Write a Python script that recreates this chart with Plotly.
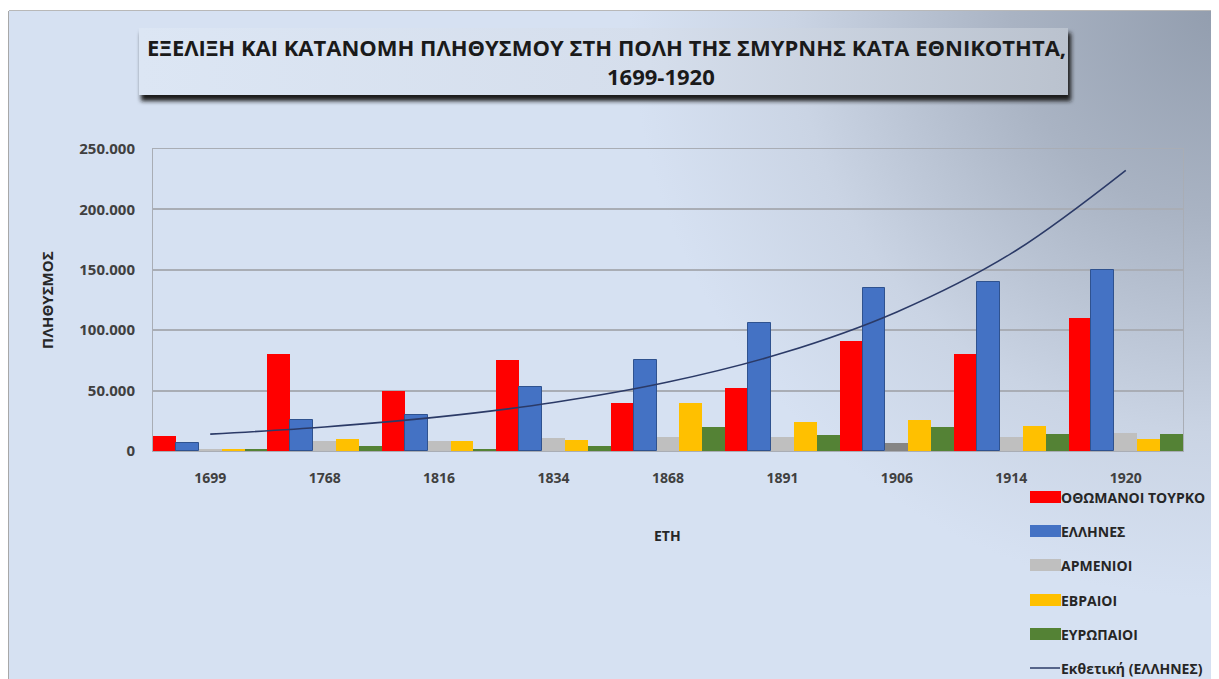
import base64
import numpy as np
import plotly.graph_objects as go

W, H = 1219, 679
OFF = 8  # the page body margin shifts the figure by 8px

# ---------------- data ----------------
years = ["1699", "1768", "1816", "1834", "1868", "1891", "1906", "1914", "1920"]
series_names = ["ΟΘΩΜΑΝΟΙ ΤΟΥΡΚΟ", "ΕΛΛΗΝΕΣ", "ΑΡΜΕΝΙΟΙ", "ΕΒΡΑΙΟΙ", "ΕΥΡΩΠΑΙΟΙ"]
turks = [12500, 80000, 50000, 75000, 40000, 52000, 91000, 80000, 110000]
greeks = [7000, 25500, 30000, 53000, 75000, 106000, 135000, 140000, 150000]
armenians = [1500, 8000, 8000, 11000, 12000, 12000, 7000, 12000, 14500]
jews = [2000, 10000, 8000, 9000, 40000, 24000, 26000, 20500, 10000]
europeans = [1500, 4000, 2000, 4500, 19500, 13000, 19500, 14000, 14000]
trend_name = "Εκθετική (ΕΛΛΗΝΕΣ)"
y_tickvals = [0, 50000, 100000, 150000, 200000, 250000]
y_ticktext = ["0", "50.000", "100.000", "150.000", "200.000", "250.000"]

colors = ["#FF0000", "#4472C4", "#BFBFBF", "#FFC000", "#548235"]
armenian_colors = ["#BFBFBF"] * 6 + ["#858585"] + ["#BFBFBF"] * 2
trend_color = "#2B3A67"

# exponential trendline (least squares on ln y, as Excel does)
idx = np.arange(1, len(years) + 1)
b, ln_a = np.polyfit(idx, np.log(np.array(greeks, dtype=float)), 1)
trend = np.exp(ln_a + b * idx)

# ---------------- background (decorative) ----------------
bx0, by0 = 139 - OFF, 28 - OFF
svg = f"""<svg xmlns='http://www.w3.org/2000/svg' width='{W}' height='{H}' viewBox='0 0 {W} {H}' preserveAspectRatio='none'>
<defs>
<radialGradient id='g' cx='{W - OFF}' cy='0' r='590' gradientUnits='userSpaceOnUse'>
<stop offset='0' stop-color='#929DAE'/>
<stop offset='0.35' stop-color='#A9B3C3'/>
<stop offset='0.72' stop-color='#CAD4E4'/>
<stop offset='1' stop-color='#D6E1F2'/>
</radialGradient>
<linearGradient id='t' x1='0' x2='1' y1='0' y2='0'>
<stop offset='0' stop-color='#DCE6F4'/>
<stop offset='0.55' stop-color='#D5DEEC'/>
<stop offset='1' stop-color='#BAC2CE'/>
</linearGradient>
<filter id='s' x='-5%' y='-50%' width='110%' height='200%'><feGaussianBlur stdDeviation='2'/></filter>
</defs>
<rect x='0' y='0' width='{W}' height='{H}' fill='#FFFFFF'/>
<rect x='1' y='3' width='{W - 1}' height='{H - 3}' fill='url(#g)'/>
<line x1='0.5' y1='3' x2='0.5' y2='{H}' stroke='#A8A8A8' stroke-width='1'/>
<line x1='1' y1='2.5' x2='{W}' y2='2.5' stroke='#B8B8B8' stroke-width='1'/>
<rect x='{bx0 + 2}' y='{by0 + 5}' width='930' height='68' fill='#1C1C1C' filter='url(#s)'/>
<rect x='{bx0}' y='{by0}' width='929' height='67' fill='url(#t)'/>
</svg>"""
bg_uri = "data:image/svg+xml;base64," + base64.b64encode(svg.encode("utf-8")).decode("ascii")

# ---------------- figure ----------------
fig = go.Figure()
values = [turks, greeks, armenians, jews, europeans]
for i, (name, vals) in enumerate(zip(series_names, values)):
    mc = armenian_colors if i == 2 else colors[i]
    line = dict(color="#2F528F", width=1) if i == 1 else dict(width=0)
    fig.add_trace(go.Bar(x=years, y=vals, name=name,
                         marker=dict(color=mc, line=line), showlegend=False))

fig.add_trace(go.Scatter(x=years, y=trend, name=trend_name, mode="lines",
                         line=dict(color=trend_color, width=1.6, shape="spline"),
                         showlegend=False))

# reference page pixel -> paper coordinate
px = lambda v: (v - OFF) / W
py = lambda v: 1 - (v - OFF) / H

grid_c = "#A9ADB5"
font_main = "Open Sans"

fig.update_layout(
    width=W, height=H,
    margin=dict(l=0, r=0, t=0, b=0, pad=0),
    paper_bgcolor="rgba(0,0,0,0)",
    plot_bgcolor="rgba(0,0,0,0)",
    barmode="group", bargap=0, bargroupgap=0,
    font=dict(family=font_main, color="#404040"),
    xaxis=dict(domain=[px(153), px(1183)], type="category",
               showgrid=False, showline=True, mirror=True, linecolor=grid_c, linewidth=1,
               tickfont=dict(size=14, color="#404040", weight="bold"),
               ticks="", ticklabelstandoff=14, automargin=False),
    yaxis=dict(domain=[py(451), py(149)], range=[0, 250000],
               tickvals=y_tickvals, ticktext=y_ticktext,
               showgrid=True, gridcolor=grid_c, gridwidth=1.5,
               showline=True, mirror=True, linecolor=grid_c, linewidth=1,
               zeroline=False,
               tickfont=dict(size=15, color="#404040", weight="bold"),
               ticks="", ticklabelstandoff=14, automargin=False),
    images=[dict(source=bg_uri, xref="paper", yref="paper", x=0, y=1,
                 sizex=1, sizey=1, sizing="stretch", xanchor="left", yanchor="top",
                 layer="below")],
)

annotations = [
    dict(text="ΕΞΕΛΙΞΗ ΚΑΙ ΚΑΤΑΝΟΜΗ ΠΛΗΘΥΣΜΟΥ ΣΤΗ ΠΟΛΗ ΤΗΣ ΣΜΥΡΝΗΣ ΚΑΤΑ ΕΘΝΙΚΟΤΗΤΑ,",
         x=px(606), y=py(47), font=dict(size=22, color="#1A1A1A", weight="bold")),
    dict(text="1699-1920", x=px(661), y=py(76),
         font=dict(size=22, color="#1A1A1A", weight="bold")),
    dict(text="ΠΛΗΘΥΣΜΟΣ", x=px(47), y=py(300), textangle=-90,
         font=dict(size=15, color="#262626", weight="bold")),
    dict(text="ΕΤΗ", x=px(667), y=py(535),
         font=dict(size=14, color="#262626", weight="bold")),
]
for a in annotations:
    a.update(xref="paper", yref="paper", showarrow=False, xanchor="center", yanchor="middle")

# custom legend (wide swatches like the original)
shapes = []
rows = [497, 531, 565, 600, 634, 668]
for i, name in enumerate(series_names):
    yc = rows[i]
    shapes.append(dict(type="rect", xref="paper", yref="paper",
                       x0=px(1030), x1=px(1061), y0=py(yc + 6), y1=py(yc - 6),
                       fillcolor=colors[i], line=dict(width=0)))
    annotations.append(dict(text=name, xref="paper", yref="paper", x=px(1059), y=py(yc),
                            xanchor="left", yanchor="middle", showarrow=False,
                            font=dict(size=14, color="#262626", weight="bold")))
shapes.append(dict(type="line", xref="paper", yref="paper",
                   x0=px(1030), x1=px(1060), y0=py(rows[5]), y1=py(rows[5]),
                   line=dict(color=trend_color, width=1.5)))
annotations.append(dict(text=trend_name, xref="paper", yref="paper", x=px(1059), y=py(rows[5]),
                        xanchor="left", yanchor="middle", showarrow=False,
                        font=dict(size=14, color="#262626", weight="bold")))

fig.update_layout(annotations=annotations, shapes=shapes)
fig.write_html("out.html")
